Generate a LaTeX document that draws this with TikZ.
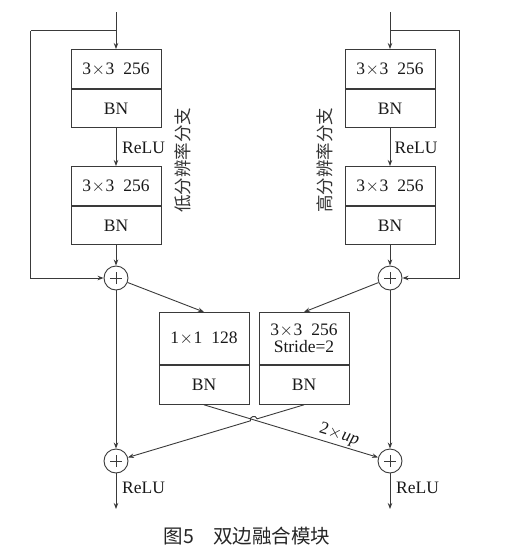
\documentclass[tikz,border=0pt]{standalone}
\usepackage{fontspec}
\setmainfont{Liberation Serif}
\newfontfamily\cjk{Noto Sans CJK SC}
\usetikzlibrary{arrows.meta,calc,intersections}
\definecolor{ln}{HTML}{3A3A3A}
\newcommand{\tms}{\kern0.5pt$\times$\kern0.5pt}
\begin{document}
\begin{tikzpicture}[x=1pt,y=-1pt,
  line/.style={draw=ln,line width=0.9pt},
  arr/.style={line,-{Stealth[length=6pt,width=4.5pt]}},
  txt/.style={font=\fontsize{17.5}{20}\selectfont,text=black!90},
  cell/.style={line,txt,minimum width=90pt,inner sep=0pt,anchor=north,align=center},
  topcell/.style={cell,minimum height=39pt},
  botcell/.style={cell,minimum height=38pt},
  midtop/.style={cell,minimum height=52pt},
  plus/.style={line,circle,minimum size=24pt,inner sep=0pt,
    path picture={\draw[ln,line width=0.6pt]
      ($(path picture bounding box.center)+(-6pt,0)$) -- ($(path picture bounding box.center)+(6pt,0)$)
      ($(path picture bounding box.center)+(0,-6pt)$) -- ($(path picture bounding box.center)+(0,6pt)$);}},
  cjklab/.style={font=\cjk\fontsize{17.5}{20}\selectfont,text=black!80,rotate=90},
  lab/.style={txt,anchor=west,inner sep=0pt}
]
\useasboundingbox (0,0) rectangle (505,557);

% left branch
\node[topcell] (l1t) at (116,49) {3\tms3\hspace{9pt}256};
\node[botcell] (l1b) at (l1t.south) {BN};
\node[topcell] (l2t) at (116,166) {3\tms3\hspace{9pt}256};
\node[botcell] (l2b) at (l2t.south) {BN};
\node[plus] (p1) at (116,278) {};

% right branch
\node[topcell] (r1t) at (390,49) {3\tms3\hspace{9pt}256};
\node[botcell] (r1b) at (r1t.south) {BN};
\node[topcell] (r2t) at (390,166) {3\tms3\hspace{9pt}256};
\node[botcell] (r2b) at (r2t.south) {BN};
\node[plus] (p2) at (390,278) {};

% middle
\node[midtop] (m1t) at (204,312) {1\tms1\hspace{9pt}128};
\node[botcell,minimum height=39pt] (m1b) at (m1t.south) {BN};
\node[midtop] (m2t) at (304,312) {3\tms3\hspace{9pt}256\\[-3pt]Stride=2};
\node[botcell,minimum height=39pt] (m2b) at (m2t.south) {BN};

% bottom plus
\node[plus] (p3) at (116,461) {};
\node[plus] (p4) at (390,461) {};

% coordinates
\coordinate (inL) at (116,12);
\coordinate (fbL) at (116,30.5);
\coordinate (cL) at (30.5,30.5);
\coordinate (inR) at (390,12);
\coordinate (fbR) at (390,30.5);
\coordinate (cR) at (459.5,30.5);
\coordinate (outL) at (116,509);
\coordinate (outR) at (390,509);

% left connectors
\draw[arr] (inL) -- (l1t.north);
\draw[line] (fbL) -- (cL);
\draw[arr] (cL) |- (p1);
\draw[arr] (l1b.south) -- (l2t.north);
\draw[arr] (l2b.south) -- (p1);
\draw[arr] (p1) -- (m1t.north);
\draw[arr] (p1) -- (p3);
\draw[arr] (p3) -- (outL);

% right connectors
\draw[arr] (inR) -- (r1t.north);
\draw[line] (fbR) -- (cR);
\draw[arr] (cR) |- (p2);
\draw[arr] (r1b.south) -- (r2t.north);
\draw[arr] (r2b.south) -- (p2);
\draw[arr] (p2) -- (m2t.north);
\draw[arr] (p2) -- (p4);
\draw[arr] (p4) -- (outR);

% crossing
\path[name path=A] (m1b.south) -- (p4);
\path[name path=B] (m2b.south) -- (p3);
\path[name intersections={of=A and B,by=X}];
\draw[arr] (m1b.south) -- node[pos=0.76,sloped,above=1pt,txt,inner sep=1pt] {2\tms\textit{up}} (p4);
\coordinate (h1) at ($(X)!3.5pt!(m2b.south)$);
\coordinate (h2) at ($(X)!3.5pt!(p3)$);
\coordinate (c1) at ($(h1)!4.6pt!-90:(h2)$);
\coordinate (c2) at ($(h2)!4.6pt!90:(h1)$);
\draw[arr] (m2b.south) -- (h1) .. controls (c1) and (c2) .. (h2) -- (p3);

% labels
\node[lab] (relu1) at (122,148) {ReLU};
\node[lab] (relu2) at (394.5,148) {ReLU};
\node[lab] (relu3) at (122,488) {ReLU};
\node[lab] (relu4) at (396,488) {ReLU};
\node[cjklab] (lowlab) at (183,160) {低分辨率分支};
\node[cjklab] (highlab) at (325,160) {高分辨率分支};
\node[font=\cjk\fontsize{19.5}{22}\selectfont,text=black!85] (cap) at (247,536) {图5\quad 双边融合模块};
\end{tikzpicture}
\end{document}
